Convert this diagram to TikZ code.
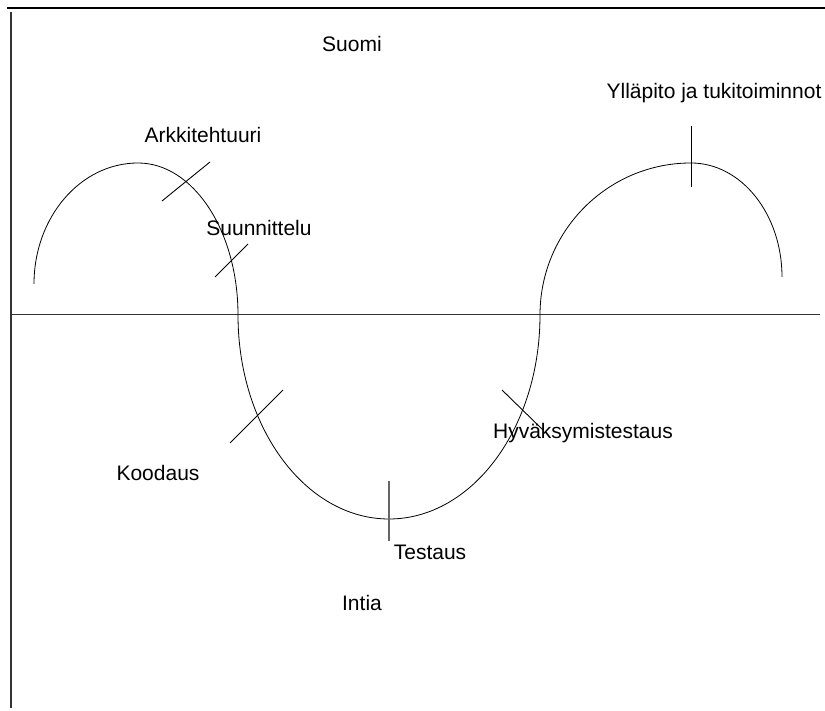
\documentclass[tikz,border=0pt]{standalone}
\usepackage{fontspec}
\setmainfont{Liberation Sans}
\begin{document}
\begin{tikzpicture}[x=1pt,y=1pt,
  lbl/.style={inner sep=0pt,font=\fontsize{21}{25}\selectfont},
  tick/.style={line width=0.9pt}]
\useasboundingbox (0,0) rectangle (825,711);

% frame lines
\draw[line width=2.6pt] (7,703)--(825,703);
\draw[line width=1.4pt,black!80] (11,699)--(11,3);
\draw[line width=1pt,black!80] (11,396)--(820,396);

% the wave
\draw[line width=0.8pt] (34,427) arc (180:90:104 and 121)
  arc (90:0:100 and 152)
  arc (180:270:151 and 204)
  arc (270:360:151 and 204)
  arc (180:90:151 and 152)
  arc (90:0:91 and 114);

% phase marks
\draw[tick] (162,510)--(210,549);
\draw[tick] (215,434)--(248,467);
\draw[tick] (230,268)--(283,321);
\draw[tick,line width=1.3pt,black!60] (389,230)--(389,170);
\draw[tick] (502,321)--(543,281);
\draw[tick] (691,585)--(691,524);

\node[lbl] (suomi) at (352,667) {Suomi};
\node[lbl] (arkki) at (203,576) {Arkkitehtuuri};
\node[lbl] (suunn) at (259,483) {Suunnittelu};
\node[lbl] (yllap) at (714,618) {Ylläpito ja tukitoiminnot};
\node[lbl] (hyvak) at (583,278) {Hyväksymistestaus};
\node[lbl] (koodaus) at (158,238) {Koodaus};
\node[lbl] (testaus) at (430,159) {Testaus};
\node[lbl] (intia) at (362,108) {Intia};
\end{tikzpicture}
\end{document}
